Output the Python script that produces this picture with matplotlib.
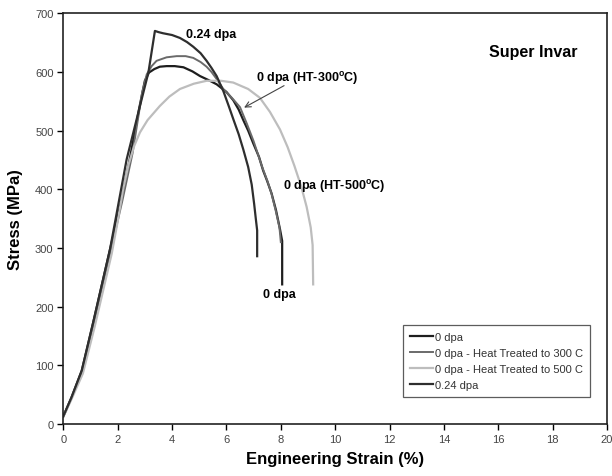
import matplotlib
matplotlib.use("Agg")
import matplotlib.pyplot as plt

plt.rcParams['font.family'] = ['Liberation Sans', 'DejaVu Sans']

# stress-strain curves read as (strain %, stress MPa)
strain_0dpa = [0, 0.3, 0.68, 1.1, 1.72, 2.15, 2.5, 2.8, 3.0, 3.15, 3.35, 3.55, 3.8, 4.1, 4.42, 4.75, 5.03, 5.35, 5.64,
               6.0, 6.25, 6.45, 6.62, 6.8, 6.99, 7.2, 7.35, 7.5, 7.66, 7.82, 7.97, 8.05, 8.05]
stress_0dpa = [13, 45, 91, 173, 298, 383, 465, 540, 585, 599, 605, 609, 610, 610, 608, 601, 593, 586, 579,
               566, 552, 536, 518, 500, 478, 455, 432, 414, 393, 365, 332, 312, 238]

strain_ht300 = [0, 0.3, 0.7, 1.12, 1.74, 2.17, 2.55, 2.9, 3.07, 3.25, 3.43, 3.8, 4.17, 4.5, 4.78, 5.05, 5.27, 5.45,
                5.64, 5.9, 6.2, 6.5, 6.75, 7.0, 7.3, 7.5, 7.65, 7.82, 7.95, 8.0]
stress_ht300 = [13, 44, 89, 170, 294, 380, 462, 565, 596, 610, 619, 625, 627, 627, 624, 617, 609, 600,
                588, 570, 556, 540, 512, 482, 440, 415, 394, 362, 335, 310]

strain_ht500 = [0, 0.3, 0.72, 1.15, 1.78, 2.0, 2.2, 2.4, 2.6, 2.82, 3.1, 3.55, 3.9, 4.29, 4.8, 5.27, 5.8, 6.25,
                6.8, 7.23, 7.6, 7.97, 8.25, 8.5, 8.75, 8.95, 9.1, 9.17, 9.19]
stress_ht500 = [12, 42, 86, 165, 290, 345, 400, 442, 473, 497, 518, 542, 558, 571, 580, 585, 585, 582,
                571, 556, 532, 502, 472, 440, 405, 370, 335, 305, 238]

strain_024 = [0, 0.3, 0.68, 1.1, 1.72, 2.33, 2.82, 3.13, 3.37, 3.5, 3.67, 4.0, 4.29, 4.55, 4.78, 5.05, 5.27,
              5.45, 5.64, 5.89, 6.1, 6.25, 6.45, 6.62, 6.8, 6.93, 7.02, 7.08, 7.13, 7.13]
stress_024 = [13, 45, 91, 173, 298, 451, 542, 599, 670, 668, 666, 663, 658, 651, 643, 632, 619,
              607, 593, 567, 540, 520, 494, 468, 438, 408, 375, 350, 330, 286]

fig = plt.figure(figsize=(6.12, 4.77), dpi=100)
ax = fig.add_axes([0.1034, 0.109, 0.8886, 0.861])

ax.plot(strain_0dpa, stress_0dpa, color='#1e1e1e', lw=1.6, label='0 dpa')
ax.plot(strain_ht300, stress_ht300, color='#6a6a6a', lw=1.4, label='0 dpa - Heat Treated to 300 C')
ax.plot(strain_ht500, stress_ht500, color='#bdbdbd', lw=1.6, label='0 dpa - Heat Treated to 500 C')
ax.plot(strain_024, stress_024, color='#2e2e2e', lw=1.6, label='0.24 dpa')

ax.set_xlim(0, 20)
ax.set_ylim(0, 700)
ax.set_xticks(range(0, 21, 2))
ax.set_yticks(range(0, 701, 100))
ax.tick_params(direction='out', length=4, width=1, labelsize=8, labelcolor='#444444', pad=3)
for s in ax.spines.values():
    s.set_linewidth(1.2)
    s.set_color('#222222')

ax.set_xlabel('Engineering Strain (%)', fontsize=12, fontweight='bold', labelpad=5)
ax.set_ylabel('Stress (MPa)', fontsize=12, fontweight='bold', labelpad=9)

ax.text(5.45, 664, '0.24 dpa', fontsize=9, fontweight='bold', ha='center', va='center')
ax.text(17.3, 635, 'Super Invar', fontsize=11.5, fontweight='bold', ha='center', va='center')
ax.text(7.08, 591, '0 dpa (HT-300$^{\\mathregular{o}}$C)', fontsize=9, fontweight='bold', ha='left', va='center')
ax.annotate('', xy=(6.56, 537), xytext=(8.21, 579),
            arrowprops=dict(arrowstyle='->', color='#444444', lw=0.8))
ax.text(8.08, 407, '0 dpa (HT-500$^{\\mathregular{o}}$C)', fontsize=9, fontweight='bold', ha='left', va='center')
ax.text(7.96, 221, '0 dpa', fontsize=9, fontweight='bold', ha='center', va='center')

leg = ax.legend(loc='lower right', bbox_to_anchor=(0.969, 0.066), fontsize=8, frameon=True,
                fancybox=False, edgecolor='#333333', handlelength=2.1, handletextpad=0.2,
                labelspacing=0.55, borderpad=0.6, borderaxespad=0)
leg.get_frame().set_linewidth(0.9)
for t in leg.get_texts():
    t.set_color('#333333')

fig.savefig('out.png', dpi=100)
